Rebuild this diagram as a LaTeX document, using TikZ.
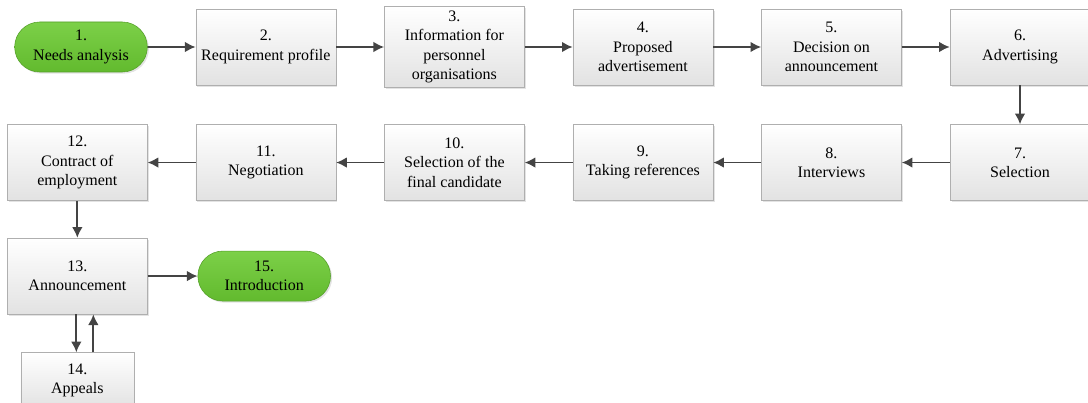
\documentclass[tikz,border=0pt]{standalone}
\usepackage{fontspec}
\setmainfont{Liberation Serif}
\newfontfamily\stepfont{Liberation Serif}
\usetikzlibrary{arrows.meta,shapes,positioning,shadows}
\definecolor{boxline}{RGB}{175,175,175}
\definecolor{boxbot}{RGB}{226,226,226}
\definecolor{termtop}{RGB}{124,208,72}
\definecolor{termbot}{RGB}{98,186,46}
\definecolor{arrowgray}{RGB}{68,68,68}

\begin{document}
\begin{tikzpicture}[x=0.75pt, y=-0.75pt,
		basic/.style   = {draw=boxline, align=center, font=\stepfont\fontsize{12}{14.5}\selectfont,
			drop shadow={shadow xshift=1.2pt, shadow yshift=-1.2pt, fill=black!22}},
		stepbox/.style = {basic, rectangle, top color=white, bottom color=boxbot,
			minimum width=105pt, minimum height=57pt, inner sep=3.5pt},
		term/.style    = {basic, rounded rectangle, draw=termbot!85!black, top color=termtop,
			bottom color=termbot, minimum width=103.5pt, minimum height=37.5pt, inner sep=2pt},
		line/.style    = {->, draw=arrowgray, line width=1.4pt},
		>={Latex[length=8pt,width=8pt]}]
		
		\useasboundingbox (0,0) rectangle (1088,403);
		
		% First row, left to right
		\node[term] (n1) at (81,47) {1.\\Needs analysis};
		\begin{scope}[every node/.style={stepbox}]
			\node [right=36pt of n1] (n2) {2.\\Requirement profile};
			\node [right=36pt of n2] (n3) {3.\\Information for\\personnel\\organisations};
			\node [right=36pt of n3] (n4) {4.\\Proposed\\advertisement};
			\node [right=36pt of n4] (n5) {5.\\Decision on\\announcement};
			\node [right=36pt of n5] (n6) {6.\\Advertising};
			
			% Second row, right to left
			\node [below=29.25pt of n6] (n7) {7.\\Selection};
			\node [left=36pt of n7] (n8) {8.\\Interviews};
			\node [left=36pt of n8] (n9) {9.\\Taking references};
			\node [left=36pt of n9] (n10) {10.\\Selection of the\\final candidate};
			\node [left=36pt of n10] (n11) {11.\\Negotiation};
			\node [left=36pt of n11] (n12) {12.\\Contract of\\employment};
			
			% Third row
			\node [below=27.75pt of n12] (n13) {13.\\Announcement};
			\node [below=28.5pt of n13, minimum width=84.75pt, minimum height=42pt] (n14) {14.\\Appeals};
		\end{scope}
		\node[term, right=37.5pt of n13] (n15) {15.\\Introduction};
		
		% Arrows from each step to the next one
		\foreach \a/\b in {n1/n2, n2/n3, n3/n4, n4/n5, n5/n6, n6/n7, n7/n8, n8/n9,
			n9/n10, n10/n11, n11/n12, n12/n13, n13/n15}
		\draw[line] (\a) -- (\b);
		
		\draw[line] ([xshift=-0.75pt]n13.south) -- ([xshift=-0.75pt]n14.north);
		\draw[line] ([xshift=12pt]n14.north) -- ([xshift=12pt]n13.south);
		
	\end{tikzpicture}
\end{document}
